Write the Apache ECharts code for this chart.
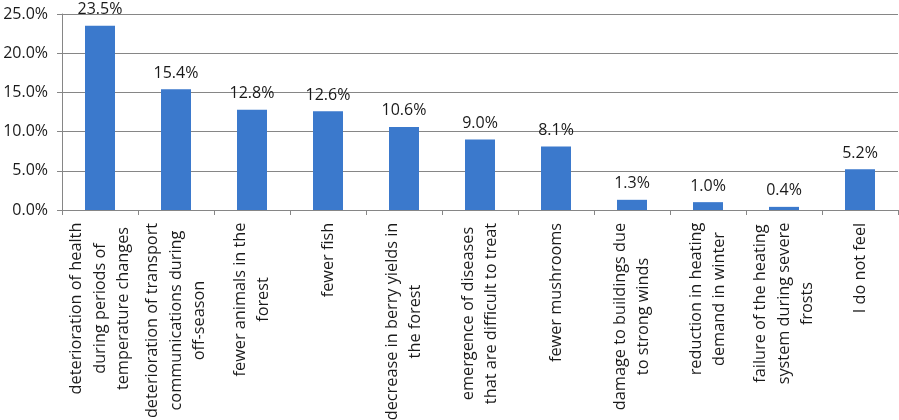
<!DOCTYPE html>
<html>
<head>
<meta charset="utf-8">
<script src="https://cdn.jsdelivr.net/npm/echarts@6/dist/echarts.min.js"></script>
<style>
html,body{margin:0;padding:0;background:#fff;}
#chart{width:899px;height:420px;}
</style>
</head>
<body>
<div id="chart"></div>
<script>
const categories = [
  "deterioration of health\nduring periods of\ntemperature changes",
  "deterioration of transport\ncommunications during\noff-season",
  "fewer animals in the\nforest",
  "fewer fish",
  "decrease in berry yields in\nthe forest",
  "emergence of diseases\nthat are difficult to treat",
  "fewer mushrooms",
  "damage to buildings due\nto strong winds",
  "reduction in heating\ndemand in winter",
  "failure of the heating\nsystem during severe\nfrosts",
  "I do not feel"
];
const values = [23.5, 15.4, 12.8, 12.6, 10.6, 9.0, 8.1, 1.3, 1.0, 0.4, 5.2];
const yTicks = [0, 5, 10, 15, 20, 25];

const FONT_FAMILY = "Open Sans";
const FONT_SIZE = 16.3;
const ctx = document.createElement('canvas').getContext('2d');
ctx.font = FONT_SIZE + 'px "' + FONT_FAMILY + '"';
const rich = {};
categories.forEach((c, i) => {
  const w = Math.max.apply(null, c.split('\n').map(s => ctx.measureText(s).width));
  rich['c' + i] = { width: Math.ceil(w) + 1, align: 'center', fontFamily: FONT_FAMILY, fontSize: FONT_SIZE, lineHeight: 23.5, color: '#1a1a1a' };
});

const chart = echarts.init(document.getElementById('chart'), null, { renderer: 'canvas' });
chart.setOption({
  animation: false,
  backgroundColor: '#ffffff',
  grid: { left: 62, right: 1, top: 14, bottom: 210, containLabel: false, outerBoundsMode: 'none' },
  xAxis: {
    type: 'category',
    data: categories,
    boundaryGap: true,
    axisLine: { lineStyle: { color: '#868686', width: 1 } },
    axisTick: { show: true, length: 5, alignWithLabel: false, lineStyle: { color: '#868686' } },
    axisLabel: {
      interval: 0,
      rotate: 90,
      margin: 12,
      hideOverlap: false,
      fontFamily: FONT_FAMILY,
      fontSize: FONT_SIZE,
      color: '#1a1a1a',
      rich: rich,
      formatter: function (v, i) {
        return v.split('\n').map(s => '{c' + i + '|' + s + '}').join('\n');
      }
    }
  },
  yAxis: {
    type: 'value',
    min: yTicks[0],
    max: yTicks[yTicks.length - 1],
    interval: 5,
    axisLine: { show: true, lineStyle: { color: '#868686', width: 1 } },
    axisTick: { show: true, length: 5, lineStyle: { color: '#868686' } },
    splitLine: { show: true, lineStyle: { color: '#868686', width: 1 } },
    axisLabel: {
      margin: 14,
      fontFamily: FONT_FAMILY,
      fontSize: 16,
      color: '#1a1a1a',
      formatter: v => v.toFixed(1) + '%'
    }
  },
  series: [{
    type: 'bar',
    data: values,
    barWidth: 30,
    itemStyle: { color: '#3b79cc' },
    label: {
      show: true,
      position: 'top',
      distance: 8,
      fontFamily: FONT_FAMILY,
      fontSize: 16,
      color: '#1a1a1a',
      formatter: p => p.value.toFixed(1) + '%'
    }
  }]
});
</script>
</body>
</html>
